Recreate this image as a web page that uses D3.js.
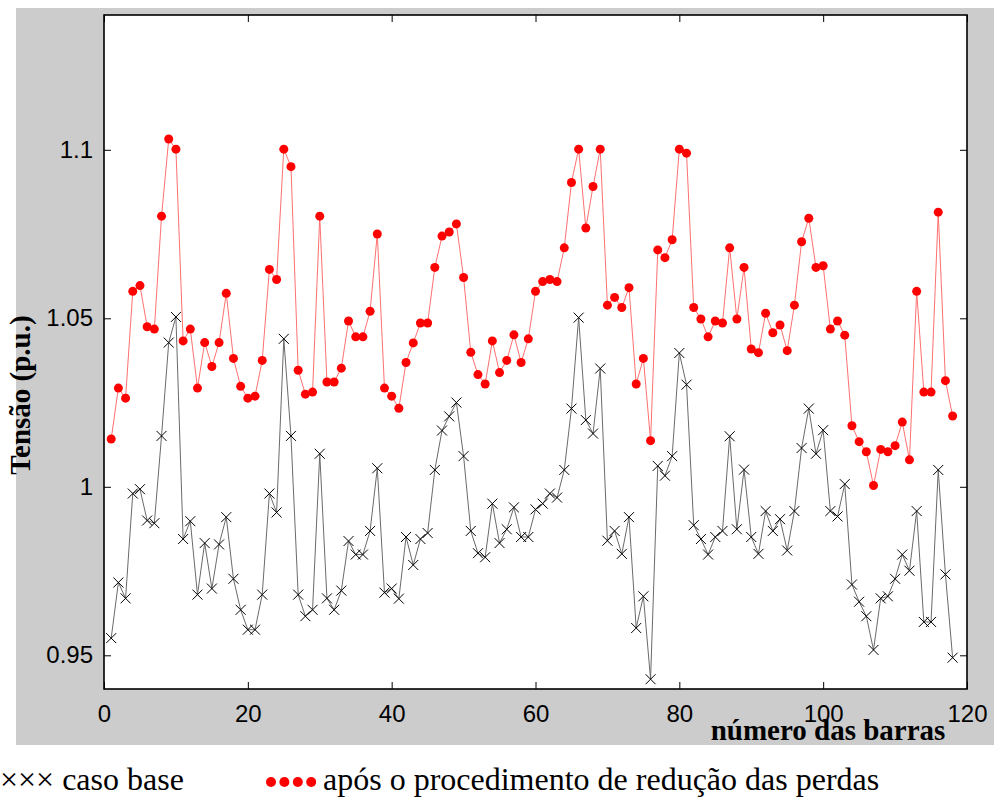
<!DOCTYPE html>
<html>
<head>
<meta charset="utf-8">
<script src="https://cdn.jsdelivr.net/npm/d3@7"></script>
<style>
  html, body { margin: 0; padding: 0; background: #fff; }
  svg { display: block; }
</style>
</head>
<body>
<svg id="chart" width="994" height="800"></svg>
<script>
// ---- data ----
const casoBase = [
  0.9551,0.9716,0.9669,0.9980,0.9993,0.9900,0.9892,1.0151,1.0428,1.0504,
  0.9845,0.9898,0.9680,0.9833,0.9698,0.9829,0.9910,0.9727,0.9635,0.9576,
  0.9576,0.9680,0.9980,0.9924,1.0439,1.0151,0.9680,0.9616,0.9635,1.0098,
  0.9669,0.9635,0.9692,0.9839,0.9799,0.9799,0.9869,1.0055,0.9686,0.9698,
  0.9668,0.9851,0.9768,0.9845,0.9863,1.0050,1.0167,1.0209,1.0250,1.0091,
  0.9869,0.9803,0.9791,0.9950,0.9833,0.9874,0.9939,0.9851,0.9851,0.9933,
  0.9950,0.9980,0.9968,1.0050,1.0232,1.0502,1.0198,1.0158,1.0351,0.9840,
  0.9869,0.9801,0.9910,0.9581,0.9675,0.9429,1.0062,1.0033,1.0091,1.0397,
  1.0303,0.9886,0.9845,0.9799,0.9851,0.9869,1.0150,0.9874,1.0051,0.9851,
  0.9801,0.9928,0.9869,0.9904,0.9811,0.9928,1.0115,1.0232,1.0098,1.0168,
  0.9928,0.9912,1.0008,0.9710,0.9659,0.9616,0.9516,0.9669,0.9675,0.9727,
  0.9799,0.9751,0.9928,0.9599,0.9599,1.0050,0.9740,0.9493
];
const aposReducao = [
  1.0142,1.0293,1.0263,1.0580,1.0597,1.0475,1.0468,1.0803,1.1032,1.1002,
  1.0433,1.0468,1.0293,1.0428,1.0357,1.0428,1.0574,1.0381,1.0298,1.0263,
  1.0269,1.0375,1.0645,1.0615,1.1002,1.0950,1.0346,1.0275,1.0281,1.0803,
  1.0311,1.0311,1.0352,1.0492,1.0445,1.0445,1.0521,1.0750,1.0293,1.0269,
  1.0233,1.0369,1.0427,1.0486,1.0486,1.0651,1.0744,1.0756,1.0780,1.0621,
  1.0399,1.0333,1.0305,1.0433,1.0339,1.0375,1.0451,1.0369,1.0439,1.0580,
  1.0609,1.0615,1.0609,1.0709,1.0903,1.1002,1.0768,1.0891,1.1002,1.0539,
  1.0562,1.0532,1.0591,1.0305,1.0381,1.0137,1.0703,1.0680,1.0733,1.1002,
  1.0990,1.0532,1.0498,1.0445,1.0492,1.0486,1.0709,1.0498,1.0651,1.0409,
  1.0398,1.0515,1.0457,1.0480,1.0404,1.0539,1.0727,1.0797,1.0651,1.0656,
  1.0468,1.0492,1.0450,1.0181,1.0134,1.0104,1.0004,1.0111,1.0104,1.0122,
  1.0192,1.0080,1.0580,1.0281,1.0281,1.0815,1.0315,1.0210
];
const xTicks = [0, 20, 40, 60, 80, 100, 120];
const yTicks = [0.95, 1.0, 1.05, 1.1];
const yTickLabels = ["0.95", "1", "1.05", "1.1"];
const xTitle = "número das barras";
const yTitle = "Tensão (p.u.)";
const legendBase = "××× caso base";
const legendApos = "após o procedimento de redução das perdas";

// ---- layout ----
const svg = d3.select("#chart");
const L = 104, R = 967, T = 15, B = 689;
const serif = "'Liberation Serif', 'Times New Roman', serif";

svg.append("rect").attr("x", 16).attr("y", 8).attr("width", 978).attr("height", 737)
  .attr("fill", "#cccccc");
svg.append("rect").attr("x", L).attr("y", T).attr("width", R - L).attr("height", B - T)
  .attr("fill", "#ffffff");

const x = d3.scaleLinear().domain([0, 120]).range([L, R]);
const y = d3.scaleLinear().domain([0.94, 1.14]).range([B, T]);

const buses = casoBase.map((_, i) => i + 1);

// axes
const fmtY = d => yTickLabels[yTicks.indexOf(d)];
const gx = svg.append("g").attr("transform", `translate(0,${B})`)
  .call(d3.axisBottom(x).tickValues(xTicks).tickSizeInner(-7).tickSizeOuter(0).tickPadding(16));
const gy = svg.append("g").attr("transform", `translate(${L},0)`)
  .call(d3.axisLeft(y).tickValues(yTicks).tickFormat(fmtY).tickSizeInner(-7).tickSizeOuter(0).tickPadding(11));
const gt = svg.append("g").attr("transform", `translate(0,${T})`)
  .call(d3.axisTop(x).tickValues(xTicks).tickSizeInner(-7).tickSizeOuter(0).tickFormat(""));
const gr = svg.append("g").attr("transform", `translate(${R},0)`)
  .call(d3.axisRight(y).tickValues(yTicks).tickSizeInner(-7).tickSizeOuter(0).tickFormat(""));
[gx, gy, gt, gr].forEach(g => {
  g.select(".domain").remove();
  g.selectAll(".tick line").attr("stroke", "#000").attr("stroke-width", 1);
  g.selectAll("text").attr("font-family", "'Liberation Sans', Arial, sans-serif")
    .attr("font-size", 24).attr("fill", "#000");
});
svg.append("rect").attr("x", L).attr("y", T).attr("width", R - L).attr("height", B - T)
  .attr("fill", "none").attr("stroke", "#000").attr("stroke-width", 1.6);

// lines
const line = d3.line().x((d, i) => x(buses[i])).y(d => y(d));
svg.append("path").datum(casoBase).attr("d", line)
  .attr("fill", "none").attr("stroke", "#6a6a6a").attr("stroke-width", 1);
svg.append("path").datum(aposReducao).attr("d", line)
  .attr("fill", "none").attr("stroke", "#ff7070").attr("stroke-width", 1);

// markers
const s = 5;
svg.append("g").selectAll("path").data(casoBase).join("path")
  .attr("d", (d, i) => {
    const cx = x(buses[i]), cy = y(d);
    return `M${cx - s},${cy - s}L${cx + s},${cy + s}M${cx - s},${cy + s}L${cx + s},${cy - s}`;
  })
  .attr("stroke", "#000").attr("stroke-width", 1).attr("fill", "none");
svg.append("g").selectAll("circle").data(aposReducao).join("circle")
  .attr("cx", (d, i) => x(buses[i])).attr("cy", d => y(d)).attr("r", 4.5)
  .attr("fill", "#ff0000");

// titles
svg.append("text").attr("x", 828).attr("y", 740).attr("text-anchor", "middle")
  .attr("font-family", serif)
  .attr("font-weight", "bold").attr("font-size", 29).text(xTitle);
svg.append("text").attr("transform", "translate(30,395) rotate(-90)").attr("text-anchor", "middle")
  .attr("font-family", serif)
  .attr("font-weight", "bold").attr("font-size", 29).text(yTitle);

// legend
svg.append("text").attr("x", 0).attr("y", 790)
  .attr("font-family", serif)
  .attr("font-size", 32).attr("fill", "#000").text(legendBase);
svg.append("g").selectAll("circle").data([0, 1, 2, 3]).join("circle")
  .attr("cx", d => 271 + d * 13.4).attr("cy", 782).attr("r", 5).attr("fill", "#ff0000");
svg.append("text").attr("x", 323).attr("y", 790)
  .attr("font-family", serif)
  .attr("font-size", 32).attr("fill", "#000").text(legendApos);
</script>
</body>
</html>
